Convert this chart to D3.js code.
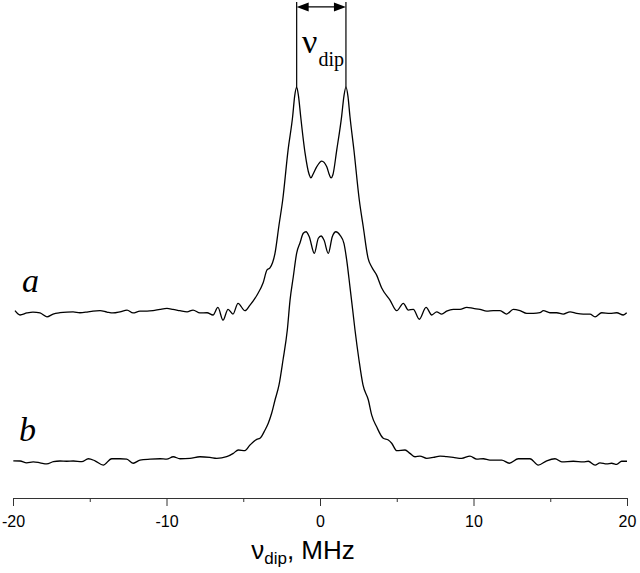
<!DOCTYPE html>
<html>
<head>
<meta charset="utf-8">
<script src="https://cdnjs.cloudflare.com/ajax/libs/d3/7.8.5/d3.min.js"></script>
<style>
  body { margin: 0; background: #fff; }
  svg { display: block; }
</style>
</head>
<body>
<div id="container"></div>
<script>
// dipolar spectra a and b, frequency in MHz, intensity normalised to ~100 at peak

var freqA = [-19.87,-19.54,-19.09,-18.70,-18.24,-17.79,-17.39,-16.94,-16.48,-16.09,-15.64,-15.18,-14.79,-14.33,
  -13.88,-13.49,-13.03,-12.57,-12.18,-11.73,-11.27,-10.88,-10.42,-9.97,-9.58,-9.12,-8.66,-8.27,-7.82,-7.36,
  -6.97,-6.65,-6.32,-5.99,-5.67,-5.34,-4.89,-4.56,-4.10,-3.71,-3.45,-3.26,-2.93,-2.67,-2.43,-2.08,-1.78,
  -1.65,-1.52,-1.40,-1.26,-0.98,-0.70,-0.59,-0.47,-0.21,0.11,0.44,0.61,0.72,0.84,1.09,1.41,1.56,1.69,1.82,
  1.95,2.21,2.56,2.82,3.13,3.37,3.69,4.02,4.56,
  5.00,5.43,5.75,6.08,6.47,6.91,7.28,7.60,7.93,8.25,8.68,9.12,9.56,9.99,10.42,10.86,11.29,11.73,12.16,12.59,
  13.03,13.47,13.90,14.33,14.55,14.98,15.42,15.85,16.29,16.72,17.15,17.59,17.92,18.35,18.89,19.33,19.76,19.98];
var intensA = [0.6,-1.3,-0.4,0,-0.4,-2.1,-0.9,-0.3,0,0.1,-0.3,0,0.4,0.6,
  0,-0.4,0.1,0.9,-0.4,0.4,0.4,0.6,1.2,1.6,1.2,0.6,0.1,0.9,-0.4,-0.3,
  -1.3,2.1,-3.6,1.2,-0.9,3.9,0.6,3.1,7.6,12.9,18.7,19.6,26.2,38.7,49.8,72,87,
  96,100,96,87,71,61,59.6,61,64.6,67.1,64.6,61,59.6,61,72,87,96,100,96,
  87,72,49.8,37.8,24,20,16.4,10.7,5.3,
  0.6,3.9,0.9,1.2,-3.2,2.1,-1.3,0.1,-0.9,0.4,1.2,1.2,2.1,1.6,1.2,0.4,0.6,0.6,-0.9,1.2,
  0.6,-0.6,-0.6,-0.3,0.6,-0.3,-0.3,-0.9,0.1,-0.6,-0.9,-0.9,-2.1,-0.3,-0.6,-0.3,-1.3,-0.3];

var freqB = [-19.98,-19.54,-19.11,-18.68,-18.24,-17.80,-17.37,-16.94,-16.50,-16.07,-15.52,-15.09,-14.66,-14.12,
  -13.57,-13.03,-12.59,-12.16,-11.73,-11.07,-10.42,-9.99,-9.56,-9.12,-8.47,-7.82,-7.17,-6.73,-6.08,-5.65,
  -5.32,-4.89,-4.56,-4.12,-3.91,-3.58,-3.37,-3.15,-2.93,-2.67,-2.41,-2.13,-1.95,-1.74,-1.52,-1.30,-1.09,
  -0.91,-0.70,-0.37,-0.11,0.07,0.26,0.54,0.80,1.04,1.30,1.56,1.74,1.95,2.13,2.28,2.54,2.80,3.15,3.37,3.69,
  4.12,4.45,4.67,5.00,5.54,5.86,6.19,6.51,6.95,7.38,7.82,8.25,8.68,9.23,9.77,10.21,10.64,11.07,11.84,12.33,
  12.92,13.68,14.22,14.77,15.31,15.75,16.50,17.15,17.48,17.92,18.24,18.68,19.00,19.33,19.65,20.0];
var intensB = [0.1,0,-0.8,-0.4,-0.8,-1.3,-0.3,0,-0.1,0,-0.3,1.0,0.1,-1.8,
  1.0,1.0,0.8,-1.0,0.4,0.8,1.0,0.8,1.9,1.0,1.2,1.9,1.6,1.2,1.9,3.4,
  4.9,4.6,7.1,9.6,10.1,13.8,16.8,21.2,27.1,33.8,44.9,58.2,71.6,81.9,92.4,97,101.2,
  101.9,99.7,92.3,99,100,98.2,92.3,99.7,101.9,100.4,96.7,89.3,77.5,67.1,58.2,44.9,33.8,27.1,20.4,15.2,
  10.1,9.3,7.9,4.6,4.9,3.4,1.9,2.2,1.2,1.6,2.2,1.9,1.6,1.2,2.2,0.8,1.0,0.4,0.4,-1.0,
  1.0,1.0,-1.8,0.1,1.0,-0.4,-0.1,-0.4,-0.1,-1.8,-0.8,-1.3,-1.0,-1.5,-0.1,-0.1];

var offsetA = 66.2;          // vertical shift of trace a
var dipPeaks = [-1.52, 1.69]; // peak positions marked by the arrow
var xTicks = [-20, -15, -10, -5, 0, 5, 10, 15, 20];
var xLabels = ["-20", "", "-10", "", "0", "", "10", "", "20"];

var width = 640, height = 573;

var svg = d3.select("#container").append("svg")
    .attr("width", width)
    .attr("height", height);

var x = d3.scaleLinear().domain([-20, 20]).range([13, 627]);
var y = d3.scaleLinear().domain([0, 100]).range([461, 236]);

var line = d3.line()
    .x(function(d) { return x(d[0]); })
    .y(function(d) { return y(d[1]); })
    .curve(d3.curveMonotoneX);

var traceA = d3.zip(freqA, intensA).map(function(d) { return [d[0], d[1] + offsetA]; });
var traceB = d3.zip(freqB, intensB);

svg.selectAll(".trace")
    .data([traceA, traceB])
  .enter().append("path")
    .attr("class", "trace")
    .attr("d", line)
    .attr("fill", "none")
    .attr("stroke", "#000")
    .attr("stroke-width", 1.3)
    .attr("stroke-linejoin", "round");

// axis
var xAxis = d3.axisBottom(x)
    .tickValues(xTicks)
    .tickFormat(function(d, i) { return xLabels[i]; })
    .tickSize(8)
    .tickSizeOuter(0)
    .tickPadding(10);

var gx = svg.append("g")
    .attr("transform", "translate(0,498)")
    .call(xAxis);
gx.attr("font-family", "Arial, 'Liberation Sans', sans-serif").attr("font-size", 16);
gx.select(".domain").attr("stroke", "#333");
gx.selectAll(".tick line").attr("stroke", "#333")
    .attr("y2", function(d, i) { return xLabels[i] ? 8 : 4; });
gx.selectAll(".tick text").attr("fill", "#000");

// axis title
var title = svg.append("text")
    .attr("x", 303)
    .attr("y", 559)
    .attr("text-anchor", "middle")
    .attr("font-family", "Arial, 'Liberation Sans', sans-serif")
    .attr("font-size", 26);
title.append("tspan").text("ν");
title.append("tspan").attr("font-size", 17).attr("dy", 5).text("dip");
title.append("tspan").attr("dy", -5).text(", MHz");

// trace labels
svg.append("text")
    .attr("x", 22).attr("y", 292)
    .attr("font-family", "'Liberation Serif', 'Times New Roman', serif")
    .attr("font-style", "italic")
    .attr("font-size", 34)
    .text("a");
svg.append("text")
    .attr("x", 19).attr("y", 441)
    .attr("font-family", "'Liberation Serif', 'Times New Roman', serif")
    .attr("font-style", "italic")
    .attr("font-size", 34)
    .text("b");

// splitting marker: vertical lines from peaks of a and double arrow
var peakTop = 100 + offsetA, lineTop = 204, arrowLevel = 201.8;

svg.selectAll(".dipline")
    .data(dipPeaks)
  .enter().append("line")
    .attr("class", "dipline")
    .attr("x1", function(d) { return x(d); })
    .attr("x2", function(d) { return x(d); })
    .attr("y1", y(peakTop))
    .attr("y2", y(lineTop))
    .attr("stroke", "#000")
    .attr("stroke-width", 1.2);

var ax0 = x(dipPeaks[0]), ax1 = x(dipPeaks[1]), ay = y(arrowLevel);
svg.append("line")
    .attr("x1", ax0 + 4).attr("x2", ax1 - 4)
    .attr("y1", ay).attr("y2", ay)
    .attr("stroke", "#000")
    .attr("stroke-width", 1.2);
svg.append("path")
    .attr("d", "M" + ax0 + "," + ay + "l12,-4.5v9z" + "M" + ax1 + "," + ay + "l-12,-4.5v9z")
    .attr("fill", "#000");

var lab = svg.append("text")
    .attr("x", 302)
    .attr("y", 53)
    .attr("font-family", "'Liberation Serif', 'Times New Roman', serif")
    .attr("font-size", 34);
lab.append("tspan").text("ν");
lab.append("tspan").attr("font-size", 20).attr("dy", 13).attr("dx", 1).text("dip");
</script>
</body>
</html>
